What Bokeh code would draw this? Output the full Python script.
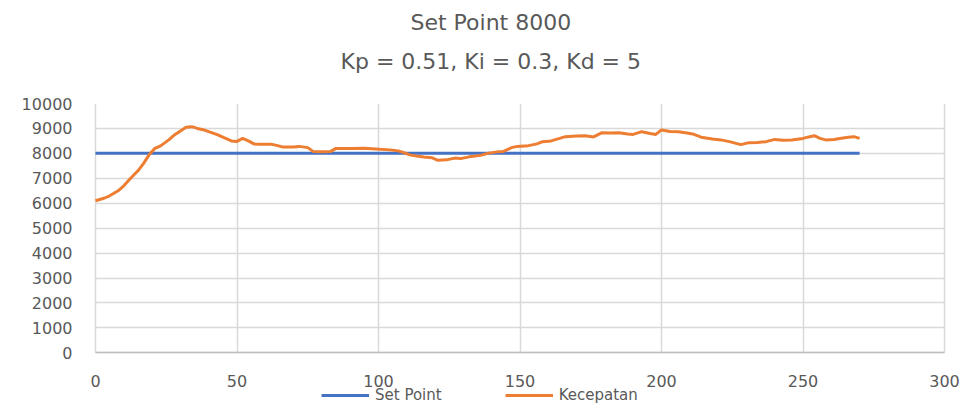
from bokeh.plotting import figure
from bokeh.models import Title, Legend, LegendItem, FixedTicker, Range1d
from bokeh.embed import file_html
from bokeh.resources import INLINE

# ---- data ----
title_main = "Set Point 8000"
title_sub = "Kp = 0.51, Ki = 0.3, Kd = 5"

setpoint_t = [0, 270]
setpoint_v = [8000, 8000]

speed_t = [0, 3, 5, 8, 10, 12, 15, 17, 19, 21, 23, 26, 28, 30, 32, 34, 36, 38, 40, 43,
           46, 48, 50, 52, 54, 56, 58, 62, 64, 66, 70, 72, 75, 77, 80, 83, 85, 90, 95, 99,
           104, 107, 109, 111, 114, 116, 119, 121, 124, 127, 129, 132, 136, 139, 142, 144,
           147, 149, 153, 156, 158, 161, 164, 166, 170, 173, 176, 179, 182, 185, 188, 190,
           193, 196, 198, 200, 203, 206, 209, 211, 214, 218, 221, 224, 227, 228, 231, 234,
           237, 240, 243, 246, 250, 252, 254, 256, 258, 261, 263, 266, 268, 270]
speed_v = [6100, 6200, 6300, 6500, 6700, 6950, 7300, 7600, 7950, 8200, 8300, 8550, 8750, 8900,
           9050, 9070, 9000, 8950, 8870, 8750, 8600, 8500, 8480, 8600, 8500, 8380, 8370, 8370,
           8320, 8260, 8260, 8280, 8230, 8070, 8060, 8070, 8200, 8200, 8210, 8180, 8140, 8100,
           8030, 7940, 7880, 7850, 7820, 7720, 7740, 7810, 7790, 7860, 7920, 8010, 8060, 8070,
           8230, 8280, 8310, 8380, 8470, 8500, 8600, 8670, 8700, 8710, 8660, 8830, 8820, 8830,
           8780, 8760, 8870, 8800, 8760, 8940, 8880, 8870, 8820, 8780, 8650, 8580, 8540, 8470,
           8380, 8350, 8430, 8440, 8470, 8560, 8530, 8540, 8600, 8660, 8710, 8600, 8540, 8560,
           8600, 8650, 8670, 8600]

x_ticks = [0, 50, 100, 150, 200, 250, 300]
y_ticks = [0, 1000, 2000, 3000, 4000, 5000, 6000, 7000, 8000, 9000, 10000]
x_max = 300
y_max = 10000

series_names = ["Set Point", "Kecepatan"]
BLUE = "#4472C4"
ORANGE = "#ED7D31"
GRAY_TEXT = "#595959"
GRID = "#D9D9D9"
FONT = "DejaVu Sans"

# layout in pixels
FIG_H = 404
TOP = 101
PLOT_W, PLOT_H = 849, 251          # pixel size of the 0..300 x 0..10000 area
PAD_PX = 17                        # frame margin left/right so end tick labels are not clipped
LEFT = 95 - PAD_PX
pad_units = PAD_PX * x_max / PLOT_W
frame_w = PLOT_W + 2 * PAD_PX
FIG_W = LEFT + frame_w
frame_h = FIG_H - TOP
y_min = y_max - frame_h * y_max / PLOT_H   # room below 0 for tick labels and legend

p = figure(width=FIG_W, height=FIG_H, output_backend="svg", toolbar_location=None,
           x_range=Range1d(-pad_units, x_max + pad_units), y_range=Range1d(y_min, y_max),
           min_border_left=LEFT, min_border_right=0, min_border_top=TOP,
           min_border_bottom=0)
p.title = None
p.outline_line_color = None
p.background_fill_color = "white"
p.border_fill_color = "white"

spacer = Title(text=" ", align="center", text_font=FONT, text_font_size="10px",
               text_color="white", standoff=12)
sub = Title(text=title_sub, align="left", text_font=FONT, text_font_size="22px",
            text_font_style="normal", text_color=GRAY_TEXT, standoff=10, offset=262)
main = Title(text=title_main, align="left", text_font=FONT, text_font_size="22px",
             text_font_style="normal", text_color=GRAY_TEXT, standoff=14, offset=332)
p.add_layout(spacer, "above")
p.add_layout(sub, "above")
p.add_layout(main, "above")

# grid
p.xgrid.ticker = FixedTicker(ticks=x_ticks)
p.ygrid.ticker = FixedTicker(ticks=y_ticks)
p.xgrid.bounds = (0, x_max)
p.ygrid.bounds = (0, y_max)
if "cross_bounds" in p.xgrid.properties():
    p.xgrid.cross_bounds = (0, y_max)
    p.ygrid.cross_bounds = (0, x_max)
p.xgrid.grid_line_color = GRID
p.ygrid.grid_line_color = GRID
p.xgrid.grid_line_width = 1.5
p.ygrid.grid_line_width = 1.5

# axes
p.xaxis.ticker = FixedTicker(ticks=x_ticks)
p.yaxis.ticker = FixedTicker(ticks=y_ticks)
p.xaxis.fixed_location = 0
p.xaxis.bounds = (0, x_max)
for ax in (p.xaxis, p.yaxis):
    ax.major_tick_line_color = None
    ax.minor_tick_line_color = None
    ax.major_label_text_font = FONT
    ax.major_label_text_font_size = "16px"
    ax.major_label_text_color = GRAY_TEXT
p.yaxis.axis_line_color = None
p.xaxis.axis_line_color = "#BFBFBF"
p.xaxis.axis_line_width = 1.5
p.yaxis.major_label_standoff = 0
p.xaxis.major_label_standoff = 16

r1 = p.line(setpoint_t, setpoint_v, line_color=BLUE, line_width=3)
r2 = p.line(speed_t, speed_v, line_color=ORANGE, line_width=3)

legend = Legend(items=[LegendItem(label=series_names[0], renderers=[r1]),
                       LegendItem(label=series_names[1], renderers=[r2])],
                orientation="horizontal", location=(226 + PAD_PX, 0),
                label_text_font=FONT, label_text_font_size="15px", label_text_color=GRAY_TEXT,
                glyph_width=48, glyph_height=12, label_standoff=6, spacing=63,
                label_height=12, padding=0, margin=0, border_line_color=None,
                background_fill_alpha=0)
p.add_layout(legend, "center")

open("out.html", "w").write(file_html(p, INLINE))
